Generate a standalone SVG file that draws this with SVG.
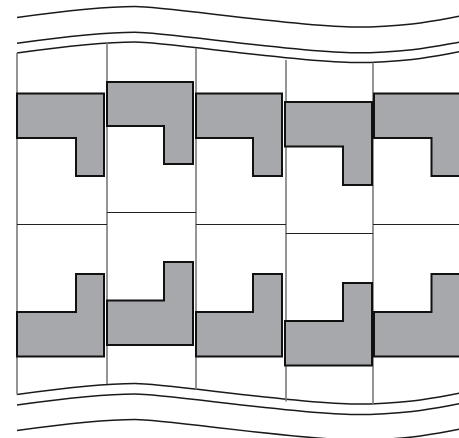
<svg xmlns="http://www.w3.org/2000/svg" width="459" height="438" viewBox="0 0 459 438">
<style>
.wave{fill:none;stroke:#1a1a1a;stroke-width:1.5}
.vline{stroke:#7a7a7a;stroke-width:1.6;fill:none}
.hline{stroke:#222;stroke-width:1.1;fill:none}
.block{fill:#a7a8ab;stroke:#111;stroke-width:2;stroke-linejoin:miter}
</style>
<defs>
<path id="wave" d="M17,53 C60,47 105,42 135,42 C165,42 300,62.5 355,62.5 C410,62.5 440,55 461,51.5"/>
</defs>
<rect width="459" height="438" fill="#fff"/>
<g id="band">
<use href="#wave" class="wave" transform="translate(0,-35.5)"/>
<use href="#wave" class="wave" transform="translate(0,-9.7)"/>
<use href="#wave" class="wave"/>
<use href="#wave" class="wave" transform="translate(0,341.5)"/>
<use href="#wave" class="wave" transform="translate(0,352)"/>
<use href="#wave" class="wave" transform="translate(0,377.5)"/>
</g>
<g id="grid">
<line class="vline" x1="17" y1="53" x2="17" y2="394.5"/>
<line class="vline" x1="107" y1="42.5" x2="107" y2="384"/>
<line class="vline" x1="196" y1="48" x2="196" y2="389.5"/>
<line class="vline" x1="286" y1="60" x2="286" y2="401.5"/>
<line class="vline" x1="373" y1="62.5" x2="373" y2="404"/>
<line class="hline" x1="17" y1="224.5" x2="107" y2="224.5"/>
<line class="hline" x1="107" y1="212.5" x2="196" y2="212.5"/>
<line class="hline" x1="196" y1="224.5" x2="286" y2="224.5"/>
<line class="hline" x1="286" y1="233.5" x2="373" y2="233.5"/>
<line class="hline" x1="373" y1="224.5" x2="459" y2="224.5"/>
</g>
<g id="top-1"><polygon class="block" points="17,93.5 104,93.5 104,176 76,176 76,138 17,138"/></g>
<g id="top-2"><polygon class="block" points="107,82 193,82 193,164 164,164 164,126 107,126"/></g>
<g id="top-3"><polygon class="block" points="196,93.5 282,93.5 282,176 253,176 253,138 196,138"/></g>
<g id="top-4"><polygon class="block" points="285,102 372,102 372,185 343,185 343,146.5 285,146.5"/></g>
<g id="top-5"><polygon class="block" points="374,93.5 462,93.5 462,176 431.5,176 431.5,138 374,138"/></g>
<g id="bottom-1"><polygon class="block" points="17,312 76,312 76,274 104,274 104,356.5 17,356.5"/></g>
<g id="bottom-2"><polygon class="block" points="107,300.5 164,300.5 164,262 193,262 193,345 107,345"/></g>
<g id="bottom-3"><polygon class="block" points="196,312 253,312 253,274 282,274 282,356.5 196,356.5"/></g>
<g id="bottom-4"><polygon class="block" points="285,321 343,321 343,283 372,283 372,365.5 285,365.5"/></g>
<g id="bottom-5"><polygon class="block" points="374,312 431.5,312 431.5,274 462,274 462,356.5 374,356.5"/></g>
</svg>
